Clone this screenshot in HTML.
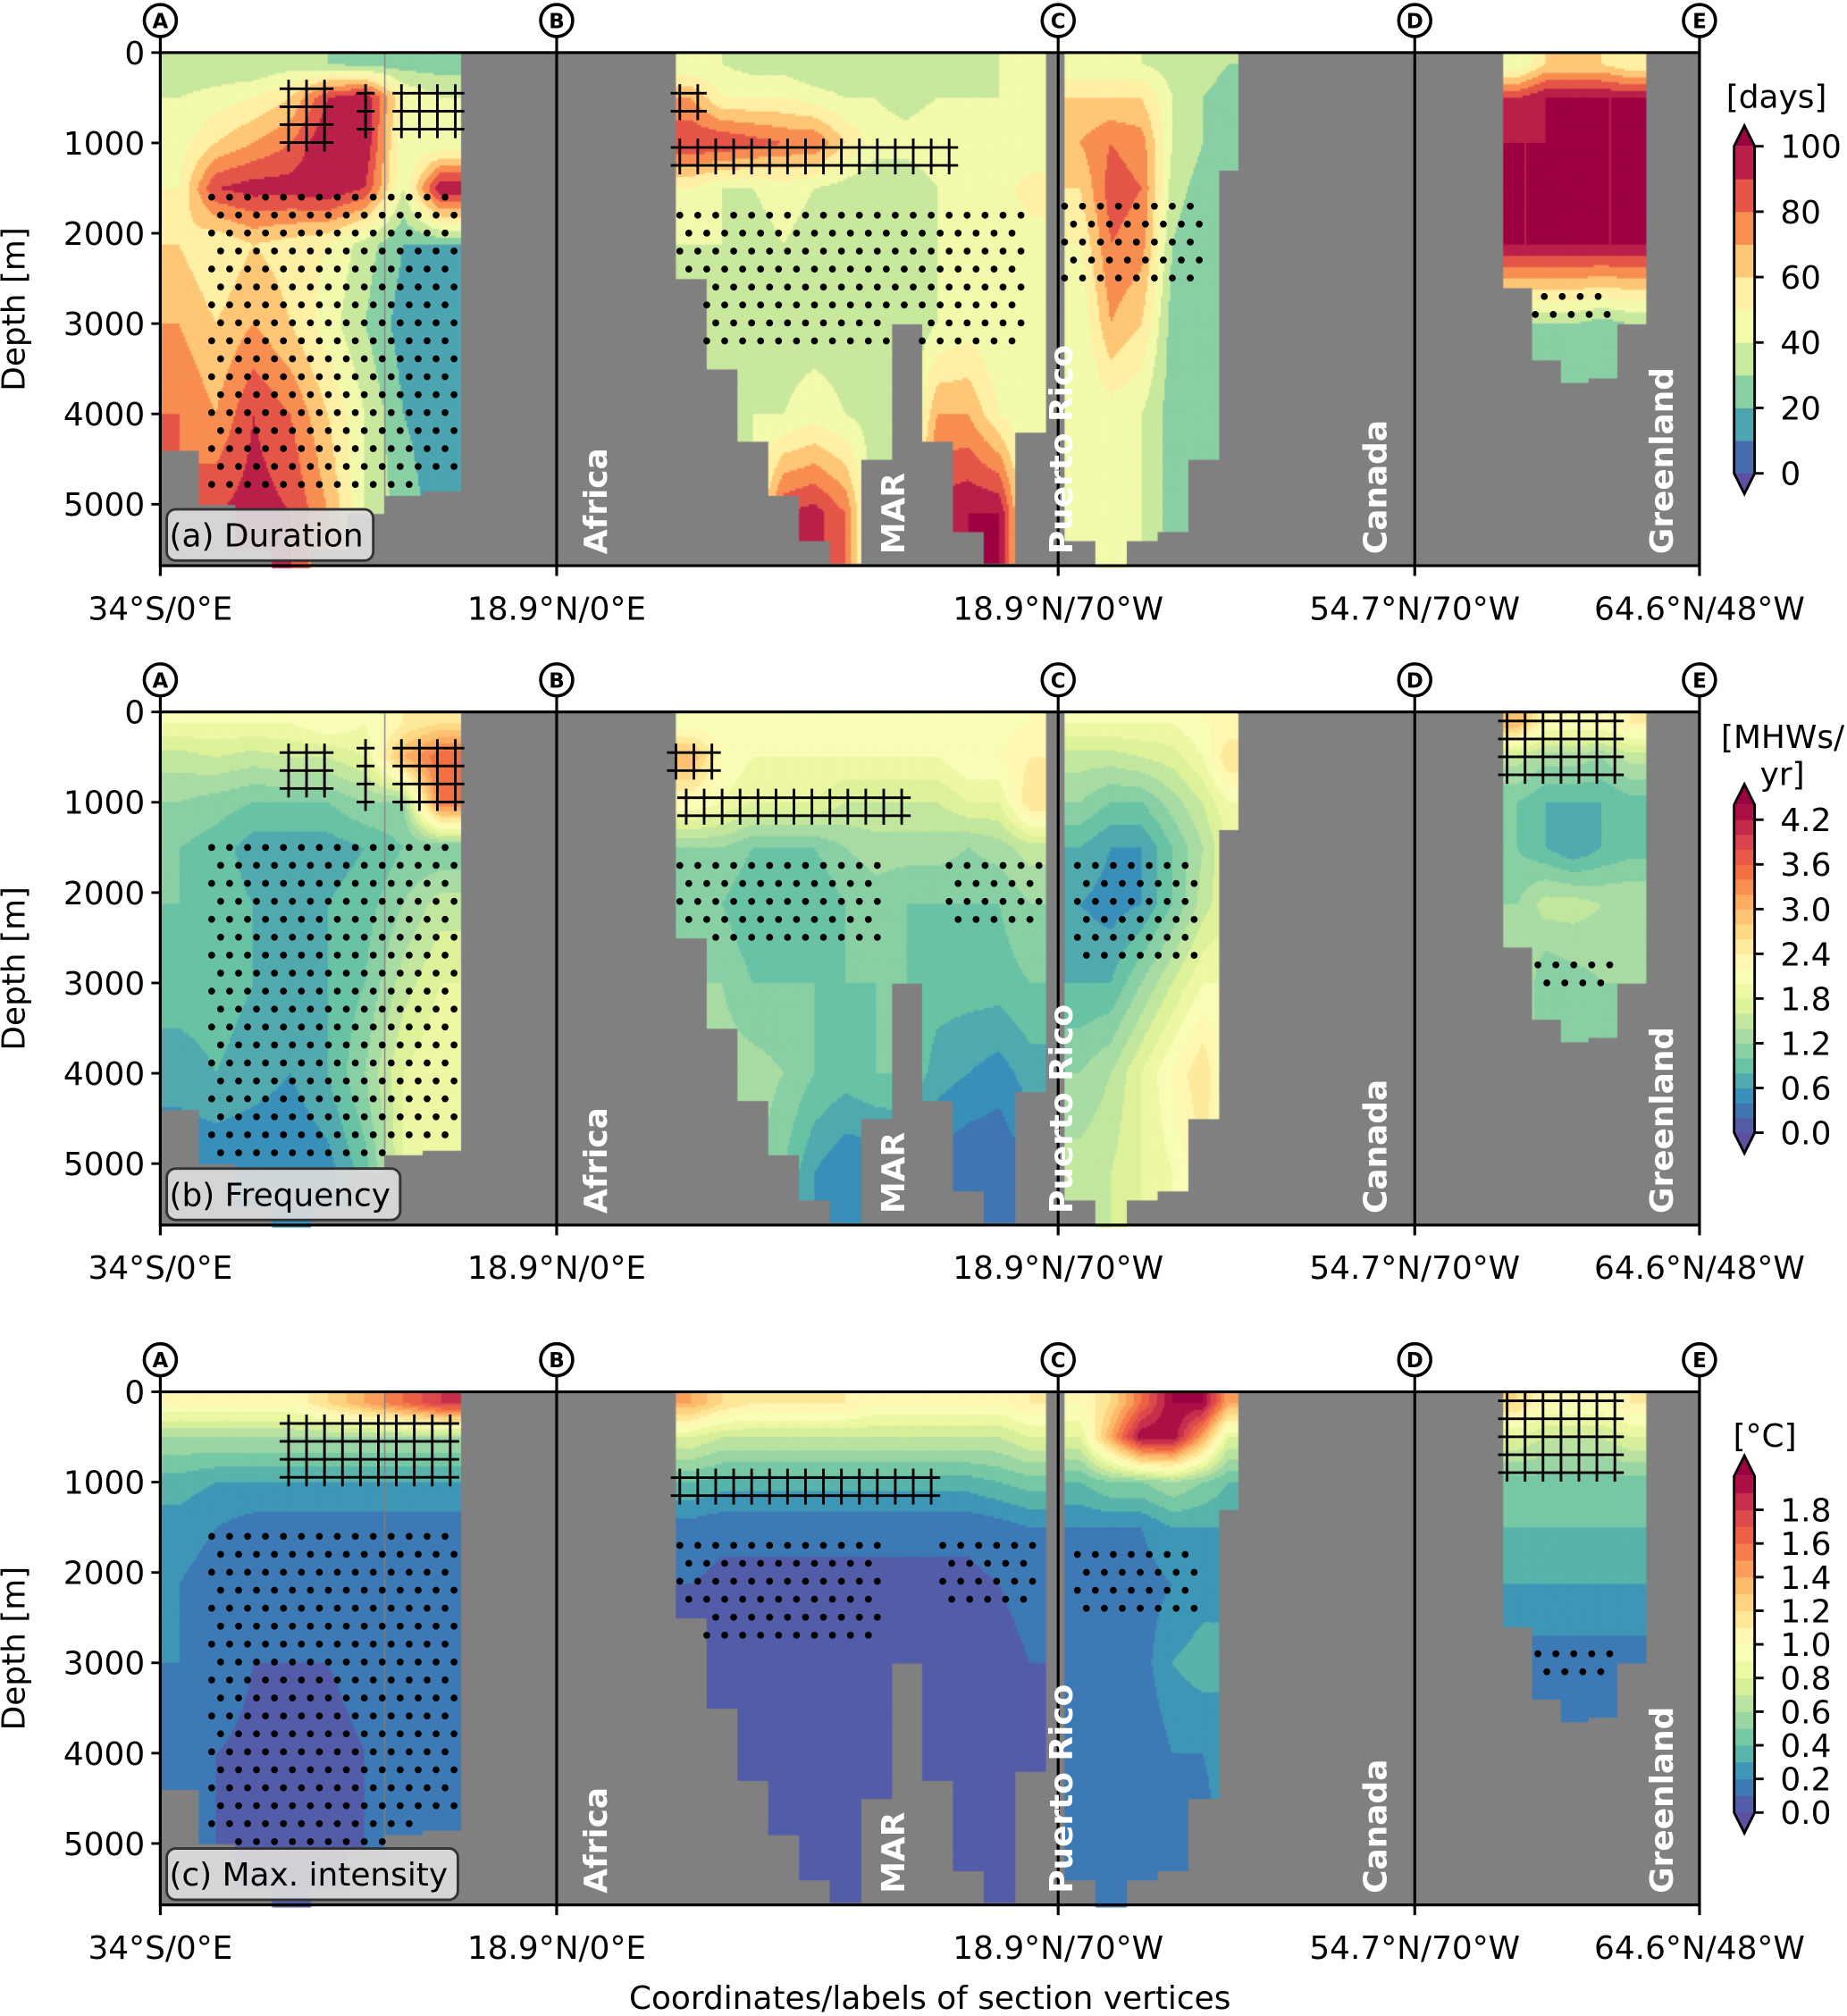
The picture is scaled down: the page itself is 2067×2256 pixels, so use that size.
<!DOCTYPE html>
<html><head><meta charset="utf-8">
<style>
html,body{margin:0;padding:0;background:#fff;}
#wrap{position:relative;width:2067px;height:2256px;overflow:hidden;}
#cv{position:absolute;left:0;top:0;}
#ov{position:absolute;left:0;top:0;}
text{font-family:"DejaVu Sans","Liberation Sans",sans-serif;}
</style></head>
<body>
<div id="wrap">
<canvas id="cv" width="2067" height="2256"></canvas>
<svg id="ov" width="2067" height="2256" viewBox="0 0 1440 1571.6" preserveAspectRatio="none" xmlns="http://www.w3.org/2000/svg"></svg>
</div>
<script>
// ---- data ----
const rowDepths=[125,500,1000,1500,2125,3000,4000,5100];
const segStarts=[0,8,20,26,31];
const colX=[0,29,58,87,116,145,175,204, 402,426,450,474,498,522,546,570,594,618,642,666, 705,729,753,777,801,825, 1047,1069,1091,1113,1135];
const colW=[29,29,29,29,29,29,29,29, 24,24,24,24,24,24,24,24,24,24,24,24, 24,24,24,24,24,15, 22,22,22,22,22];
const colBottom=[4400,5000,5500,5700,5500,5100,4900,4850, 2500,3500,4300,4900,5400,5650,4500,3000,4300,5300,5650,4200, 5400,5700,5400,5300,4500,1300, 2600,3400,3650,3600,3000];
const durationVals=[
[30,40,45,50,60,70,80,80],[30,45,60,90,50,60,70,90],[30,50,70,95,60,70,90,95],[35,60,80,95,55,60,80,90],
[30,90,100,100,50,45,60,70],[25,100,100,90,35,30,40,40],[25,50,40,40,20,15,20,25],[25,40,40,100,20,10,15,15],
[40,70,90,50,40,30,30,30],[40,50,90,40,40,35,35,35],[35,50,85,40,35,35,40,40],[35,50,80,45,40,35,40,90],
[30,45,80,40,35,35,45,95],[30,40,60,35,35,35,40,80],[30,40,45,30,35,35,35,30],[30,35,45,30,35,30,30,30],
[35,40,50,40,40,40,70,95],[35,40,45,40,40,45,70,100],[40,40,45,45,40,40,50,100],[45,40,40,55,45,40,40,40],
[40,60,70,60,50,40,40,40],[40,60,80,85,80,70,45,40],[40,60,75,80,75,60,40,40],[35,40,40,35,30,25,25,25],
[35,30,30,25,20,20,20,20],[30,25,25,20,20,20,20,20],
[40,90,100,100,100,30,20,20],[60,100,100,100,100,30,20,20],[60,100,100,100,100,30,20,20],[60,100,100,100,100,25,20,20],[50,100,100,100,100,30,20,20]];
const frequencyVals=[
[2.0,1.5,1.2,1.0,1.0,0.9,0.7,0.4],[2.0,1.6,1.1,0.9,0.9,0.9,0.8,0.4],[2.0,1.5,1.0,0.7,0.8,0.8,0.7,0.4],[2.0,1.6,1.0,0.7,0.7,0.7,0.6,0.4],
[2.2,1.6,1.0,0.7,0.8,0.8,0.8,0.5],[2.0,1.8,1.2,0.8,0.9,1.0,1.2,0.9],[2.4,3.0,1.2,1.0,1.2,1.5,1.8,1.8],[2.6,3.6,3.5,1.0,1.5,1.8,2.0,1.8],
[2.0,3.0,2.2,1.2,1.0,1.2,1.2,1.2],[2.0,2.2,2.0,1.2,1.0,1.2,1.3,1.3],[2.0,2.0,1.8,1.0,0.8,1.0,1.3,1.3],[2.0,2.0,1.8,1.0,0.8,1.0,1.2,1.0],
[2.0,2.0,1.8,1.0,0.8,1.0,1.0,0.6],[2.0,2.0,1.6,1.2,1.0,1.0,0.9,0.4],[2.0,2.0,1.6,1.3,1.1,1.0,1.0,0.4],[2.0,2.0,1.6,1.3,1.0,1.0,1.0,0.5],
[2.0,2.0,1.6,1.3,1.0,0.9,0.7,0.3],[2.0,2.2,1.8,1.2,1.0,0.9,0.6,0.2],[2.1,2.2,1.8,1.3,1.0,0.9,0.5,0.2],[2.2,2.4,2.6,1.5,1.2,1.0,0.7,0.4],
[2.0,1.5,1.2,0.8,0.6,0.8,1.2,1.5],[2.0,1.5,1.0,0.6,0.5,0.8,1.4,1.6],[2.0,1.6,1.0,0.6,0.6,1.2,1.8,1.8],[2.0,1.7,1.3,1.0,1.0,1.6,2.2,2.0],
[2.2,2.0,1.6,1.4,1.5,2.0,2.6,2.4],[2.2,2.6,2.0,1.8,1.8,2.0,2.0,2.0],
[3.0,1.5,1.0,1.0,1.2,1.5,1.5,1.5],[2.2,1.3,0.8,0.8,1.5,1.0,1.0,1.0],[2.2,1.3,0.8,0.6,1.5,1.1,1.0,1.0],[2.2,1.2,0.8,0.8,1.4,1.2,1.0,1.0],[2.4,1.5,0.9,0.9,1.4,1.2,1.0,1.0]];
const intensityVals=[
[1.0,0.6,0.35,0.25,0.2,0.2,0.15,0.12],[1.0,0.6,0.3,0.2,0.15,0.15,0.1,0.1],[1.0,0.6,0.3,0.15,0.12,0.1,0.08,0.08],[1.0,0.6,0.3,0.15,0.12,0.1,0.08,0.08],
[1.2,0.6,0.3,0.15,0.12,0.1,0.08,0.08],[1.4,0.6,0.3,0.15,0.12,0.12,0.1,0.1],[1.6,0.6,0.3,0.15,0.15,0.15,0.12,0.1],[1.8,0.6,0.3,0.15,0.15,0.15,0.12,0.1],
[1.4,0.8,0.4,0.15,0.1,0.08,0.05,0.05],[1.2,0.7,0.35,0.12,0.08,0.06,0.05,0.05],[1.1,0.7,0.35,0.12,0.08,0.06,0.05,0.05],[1.1,0.7,0.35,0.12,0.08,0.06,0.05,0.05],
[1.1,0.7,0.35,0.12,0.08,0.06,0.05,0.05],[1.1,0.7,0.35,0.12,0.08,0.06,0.05,0.05],[1.0,0.7,0.35,0.12,0.08,0.06,0.05,0.05],[1.0,0.7,0.35,0.12,0.08,0.06,0.05,0.05],
[1.0,0.7,0.35,0.12,0.08,0.06,0.05,0.05],[1.0,0.7,0.35,0.12,0.08,0.06,0.05,0.05],[1.0,0.7,0.4,0.15,0.1,0.08,0.05,0.05],[1.1,0.8,0.45,0.2,0.12,0.1,0.08,0.08],
[1.0,0.8,0.4,0.2,0.15,0.12,0.1,0.1],[1.2,1.4,0.5,0.2,0.15,0.12,0.1,0.1],[1.6,2.0,0.5,0.2,0.15,0.15,0.1,0.1],[2.0,2.0,0.6,0.3,0.2,0.3,0.2,0.1],
[2.0,1.4,0.5,0.3,0.25,0.35,0.2,0.1],[1.4,0.8,0.4,0.3,0.3,0.3,0.3,0.3],
[1.2,0.8,0.45,0.4,0.3,0.15,0.1,0.1],[1.0,0.7,0.45,0.4,0.3,0.15,0.1,0.1],[1.0,0.7,0.45,0.4,0.3,0.15,0.1,0.1],[1.0,0.7,0.45,0.4,0.3,0.15,0.1,0.1],[1.1,0.8,0.45,0.4,0.3,0.15,0.1,0.1]];
const panelVals=[durationVals,frequencyVals,intensityVals];
const cbMin=[0,0,0];
const cbMax=[100,4.4,2.0];
const cbBands=[10,22,20];
const cbTicks=[[0,20,40,60,80,100],[0,0.6,1.2,1.8,2.4,3.0,3.6,4.2],[0,0.2,0.4,0.6,0.8,1.0,1.2,1.4,1.6,1.8]];
const cbTickLabels=[["0","20","40","60","80","100"],["0.0","0.6","1.2","1.8","2.4","3.0","3.6","4.2"],["0.0","0.2","0.4","0.6","0.8","1.0","1.2","1.4","1.6","1.8"]];
const depthTicks=[0,1000,2000,3000,4000,5000];
const vertexNames=["A","B","C","D","E"];
const vertexDist=[0,309,700,978,1200];
const vertexLabels=["34°S/0°E","18.9°N/0°E","18.9°N/70°W","54.7°N/70°W","64.6°N/48°W"];
const landmarks=["Africa","MAR","Puerto Rico","Canada","Greenland"];
const landmarkDist=[339,571,702,947,1170];
const panelTitles=["(a) Duration","(b) Frequency","(c) Max. intensity"];
const stipple=[
 [[40,230,1600,4800],[405,675,1800,3200],[705,810,1700,2500],[1065,1130,2700,3000]],
 [[40,230,1500,5000],[405,565,1700,2600],[615,685,1700,2300],[715,810,1700,2700],[1060,1130,2800,3000]],
 [[40,230,1600,5000],[405,565,1700,2800],[610,685,1700,2300],[715,810,1800,2400],[1060,1130,2900,3200]]];
const hatch=[
 [[100,135,400,1100],[160,230,450,1000],[405,430,450,800],[405,615,1050,1300]],
 [[100,130,450,900],[160,230,400,1100],[402,430,450,800],[410,585,950,1300],[1050,1140,100,700]],
 [[100,230,350,1100],[405,605,950,1250],[1050,1140,100,1000]]];

// ---- geometry ----
const SX=2067/1440, SY=2256/1571.6;
const panelTop=[41,555,1085], PX0=125, PW=1200, PH=400, DMAX=5680;
function xs(d){return PX0+d;}
function ys(p,z){return panelTop[p]+z*PH/DMAX;}
const spectral=['#9e0142','#d53e4f','#f46d43','#fdae61','#fee08b','#ffffbf','#e6f598','#abdda4','#66c2a5','#3288bd','#5e4fa2'].reverse();
function hex(h){return [parseInt(h.substr(1,2),16),parseInt(h.substr(3,2),16),parseInt(h.substr(5,2),16)];}
const spRGB=spectral.map(hex);
function cmap(t){t=Math.max(0,Math.min(1,t));const f=t*10;const i=Math.min(9,Math.floor(f));const u=f-i;const a=spRGB[i],b=spRGB[i+1];
 return 'rgb('+Math.round(a[0]+(b[0]-a[0])*u)+','+Math.round(a[1]+(b[1]-a[1])*u)+','+Math.round(a[2]+(b[2]-a[2])*u)+')';}
function bandColor(p,v){const nb=cbBands[p];let i=Math.floor((v-cbMin[p])/(cbMax[p]-cbMin[p])*nb);
 if(i>=nb) return cmap(1); if(i<0) return cmap(0); return cmap((i+0.5)/nb);}
function colAt(d){for(let j=0;j<colX.length;j++){if(d>=colX[j]&&d<colX[j]+colW[j])return j;}return -1;}
function segOf(j){for(let s=0;s<4;s++){if(j>=segStarts[s]&&j<segStarts[s+1])return s;}return 0;}
function rowInterp(arr,z){if(z<=rowDepths[0])return arr[0];for(let k=0;k<rowDepths.length-1;k++){if(z<rowDepths[k+1]){const u=(z-rowDepths[k])/(rowDepths[k+1]-rowDepths[k]);return arr[k]+(arr[k+1]-arr[k])*u;}}return arr[arr.length-1];}
function valueAt(p,j,d,z){const s=segOf(j);const a=segStarts[s],b=segStarts[s+1]-1;const vals=panelVals[p];
 let k=a;while(k<b&&colX[k+1]+colW[k+1]/2<=d)k++;const c0=colX[k]+colW[k]/2;
 if(d<=c0||k===b)return rowInterp(vals[k],z);
 const c1=colX[k+1]+colW[k+1]/2;const u=Math.min(1,(d-c0)/(c1-c0));return rowInterp(vals[k],z)*(1-u)+rowInterp(vals[k+1],z)*u;}

// ---- canvas heatmaps ----
const ctx=document.getElementById('cv').getContext('2d');
ctx.scale(SX,SY);
for(let p=0;p<3;p++){
 ctx.fillStyle='#808080';ctx.fillRect(PX0,panelTop[p],PW,PH);
 const dx=1.5,dz=25;
 for(let d=0;d<PW;d+=dx){const j=colAt(d);if(j<0)continue;const bot=colBottom[j];
  for(let z=0;z<bot;z+=dz){ctx.fillStyle=bandColor(p,valueAt(p,j,d+dx/2,z+dz/2));
   const y0=ys(p,z),y1=ys(p,Math.min(bot,z+dz));ctx.fillRect(xs(d),y0,dx+0.5,y1-y0+0.5);}}
}

// ---- svg overlay ----
const NS='http://www.w3.org/2000/svg';const svg=document.getElementById('ov');
function el(tag,attrs,parent,txt){const e=document.createElementNS(NS,tag);for(const k in attrs)e.setAttribute(k,attrs[k]);if(txt!==undefined)e.textContent=txt;(parent||svg).appendChild(e);return e;}
function bottomAt(d){const j=colAt(d);return j<0?-1:colBottom[j];}
const FS=25;
for(let p=0;p<3;p++){
 const T=panelTop[p],B=T+PH;
 const g=el('g',{});
 const sg=el('g',{fill:'#000'},g);
 stipple[p].forEach(r=>{const stepZ=14*DMAX/PH;let row=0;
  for(let z=r[2];z<=r[3];z+=stepZ,row++){for(let d=r[0]+(row%2?7:0);d<=r[1];d+=14){const bt=bottomAt(d);if(bt<0||z>bt-90)continue;
   const c=el('circle',{cx:xs(d),cy:ys(p,z),r:2.7},sg);}}});
 const hg=el('g',{stroke:'#000','stroke-width':2},g);
 hatch[p].forEach(r=>{const stepZ=14*DMAX/PH;for(let z=r[2];z<=r[3];z+=stepZ){for(let d=r[0];d<=r[1];d+=14){const bt=bottomAt(d);if(bt<0||z>bt-90)continue;
   const h=el('path',{d:'M'+(xs(d)-7)+' '+ys(p,z)+'h14M'+xs(d)+' '+(ys(p,z)-7)+'v14',fill:'none'},hg);}}});
 vertexDist.forEach((vd,i)=>{const x=xs(vd);
  const ln=el('line',{x1:x,y1:T-14,x2:x,y2:B+8,stroke:'#000','stroke-width':2.2},g);
  const c=el('circle',{cx:x,cy:T-25,r:12.5,fill:'#fff',stroke:'#000','stroke-width':2.5},g);
  const t=el('text',{x:x,y:T-19,'text-anchor':'middle','font-size':16,'font-weight':'bold'},g,vertexNames[i]);
  const xl=el('text',{x:x,y:B+42,'text-anchor':'middle','font-size':FS},g,vertexLabels[i]);});
 const fr=el('rect',{x:PX0,y:T,width:PW,height:PH,fill:'none',stroke:'#000','stroke-width':2.2},g);
 depthTicks.forEach(dt=>{const y=ys(p,dt);
  const tk=el('line',{x1:PX0-7,x2:PX0,y1:y,y2:y,stroke:'#000','stroke-width':2},g);
  const tl=el('text',{x:PX0-12,y:y+9,'text-anchor':'end','font-size':FS},g,String(dt));});
 const yt=el('text',{x:0,y:0,transform:'translate(19,'+(T+200)+') rotate(-90)','text-anchor':'middle','font-size':FS},g,'Depth [m]');
 landmarks.forEach((lm,i)=>{const x=xs(landmarkDist[i]);const t=el('text',{x:0,y:0,transform:'translate('+(x+9)+','+(B-9)+') rotate(-90)','font-size':25,'font-weight':'bold',fill:'#fff'},g,lm);});
 const tw=[161,182,227][p];
 const bx=el('rect',{x:130,y:B-44,width:tw,height:40,rx:7,fill:'#dcdcdc','fill-opacity':0.92,stroke:'#333','stroke-width':2},g);
 const bt=el('text',{x:132,y:B-15,'font-size':FS},g,panelTitles[p]);
 const cb=el('g',{},g);
 const zeroY=[369,883,1413][p],topTickY=[114,639,1177][p];const lastT=cbTicks[p][cbTicks[p].length-1];
 const pxPer=(zeroY-topTickY)/(lastT-cbMin[p]);function cy(v){return zeroY-(v-cbMin[p])*pxPer;}
 const cx0=1352,cw=16,nb=cbBands[p];const topY=cy(cbMax[p]);
 for(let i=0;i<nb;i++){const v0=cbMin[p]+(cbMax[p]-cbMin[p])*i/nb,v1=cbMin[p]+(cbMax[p]-cbMin[p])*(i+1)/nb;
  const r=el('rect',{x:cx0,y:cy(v1),width:cw,height:cy(v0)-cy(v1)+0.3,fill:cmap((i+0.5)/nb)},cb);}
 const up=el('path',{d:'M'+cx0+' '+topY+'L'+(cx0+cw/2)+' '+(topY-16)+'L'+(cx0+cw)+' '+topY+'Z',fill:cmap(1)},cb);
 const dn=el('path',{d:'M'+cx0+' '+zeroY+'L'+(cx0+cw/2)+' '+(zeroY+16)+'L'+(cx0+cw)+' '+zeroY+'Z',fill:cmap(0)},cb);
 const ol=el('path',{d:'M'+cx0+' '+zeroY+'L'+(cx0+cw/2)+' '+(zeroY+16)+'L'+(cx0+cw)+' '+zeroY+'V'+topY+'L'+(cx0+cw/2)+' '+(topY-16)+'L'+cx0+' '+topY+'Z',fill:'none',stroke:'#000','stroke-width':2},cb);
 cbTicks[p].forEach((v,i)=>{const y=cy(v);
  const tk=el('line',{x1:cx0+cw,x2:cx0+cw+7,y1:y,y2:y,stroke:'#000','stroke-width':2},cb);
  const tl=el('text',{x:cx0+cw+20,y:y+9,'font-size':FS},cb,cbTickLabels[p][i]);});
 if(p===0){const u=el('text',{x:1385,y:84,'text-anchor':'middle','font-size':FS},cb,'[days]');}
 if(p===1){const u=el('text',{x:1438,y:583,'text-anchor':'end','font-size':FS},cb,'[MHWs/');
  const u2=el('text',{x:1407,y:612,'text-anchor':'end','font-size':FS},cb,'yr]');}
 if(p===2){const u=el('text',{x:1376,y:1128,'text-anchor':'middle','font-size':FS},cb,'[°C]');}
}
const xt=el('text',{x:725,y:1566,'text-anchor':'middle','font-size':FS},svg,'Coordinates/labels of section vertices');


</script>
</body></html>
